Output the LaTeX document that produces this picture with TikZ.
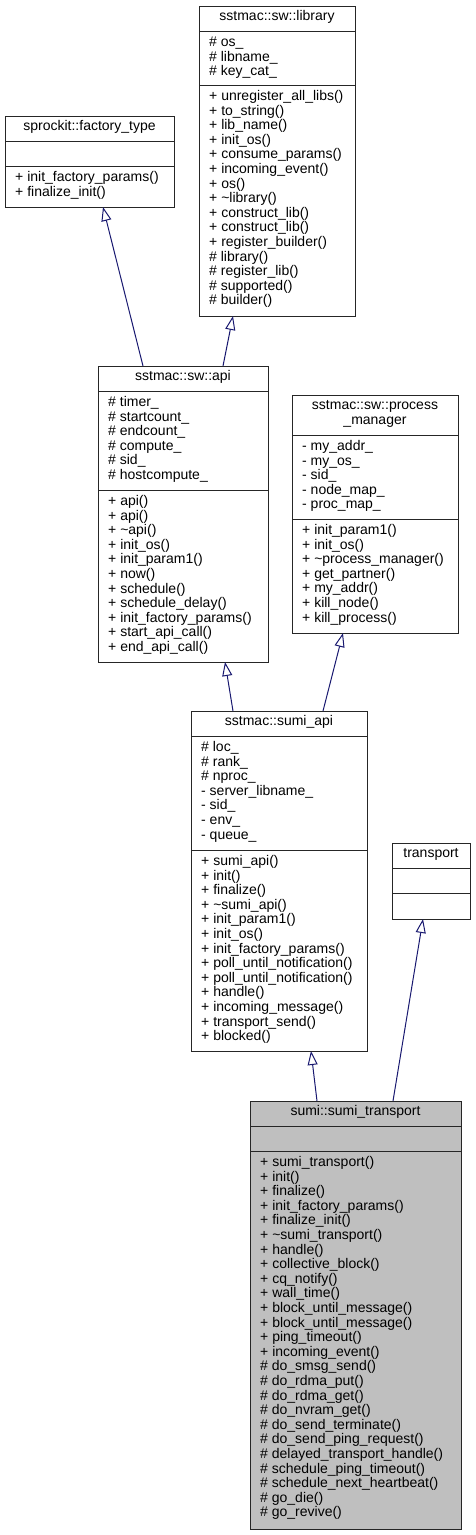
\documentclass[tikz,border=0pt]{standalone}
\usepackage{fontspec}
\setmainfont{Liberation Sans}
\usetikzlibrary{arrows.meta,calc}
\definecolor{edgeblue}{HTML}{191970}
\definecolor{focusgray}{HTML}{BFBFBF}

\begin{document}
\begin{tikzpicture}[x=1pt,y=-1pt,
    classbox/.style={draw=black!85,line width=1pt,fill=white,anchor=north west,
      inner sep=0pt,outer sep=0pt},
    sepline/.style={draw=black!85,line width=1pt},
    titletext/.style={anchor=north,inner sep=0pt,align=center,
      font=\fontsize{14}{14.6}\selectfont},
    membertext/.style={anchor=north west,inner sep=0pt,align=left,
      font=\fontsize{14}{14.6}\selectfont},
    extendsline/.style={edgeblue,line width=1pt,
      -{Triangle[open,length=14pt,width=10pt]}}]
  \useasboundingbox (0,0) rectangle (476,1535);
  % class boxes
  \node[classbox,minimum width=156pt,minimum height=310pt] (library) at (199,6) {};
  \node[classbox,minimum width=169pt,minimum height=91pt] (factory) at (5,116) {};
  \node[classbox,minimum width=170pt,minimum height=296pt] (api) at (98,366) {};
  \node[classbox,minimum width=166pt,minimum height=238pt] (procmgr) at (292,395) {};
  \node[classbox,minimum width=176pt,minimum height=340pt] (sumiapi) at (191,711) {};
  \node[classbox,minimum width=78pt,minimum height=76pt] (transport) at (392,843) {};
  \node[classbox,fill=focusgray,minimum width=211pt,minimum height=428pt] (sumitransport) at (250,1101) {};
  \foreach \c/\d in {library/25,library/79,factory/25,factory/50,api/25,api/124,
      procmgr/40,procmgr/124,sumiapi/25,sumiapi/139,transport/25,transport/50,
      sumitransport/25,sumitransport/50}
    \draw[sepline] ([yshift=-\d pt]\c.north west) -- ([yshift=-\d pt]\c.north east);

  % titles
  \node[titletext] (libraryTitle) at ([yshift=-4.5pt]library.north) {\strut sstmac::sw::library};
  \node[titletext] (factoryTitle) at ([yshift=-4.5pt]factory.north) {\strut sprockit::factory\_type};
  \node[titletext] (apiTitle) at ([yshift=-4.5pt]api.north) {\strut sstmac::sw::api};
  \node[titletext] (procmgrTitle) at ([yshift=-4.5pt]procmgr.north) {\strut sstmac::sw::process\\\_manager};
  \node[titletext] (sumiapiTitle) at ([yshift=-4.5pt]sumiapi.north) {\strut sstmac::sumi\_api};
  \node[titletext] (transportTitle) at ([yshift=-4.5pt]transport.north) {\strut transport};
  \node[titletext] (sumitransportTitle) at ([yshift=-4.5pt]sumitransport.north) {\strut sumi::sumi\_transport};

  % members
  \node[membertext] (libraryAttr) at ([xshift=10pt,yshift=-30pt]library.north west)
    {\strut\# os\_\\\# libname\_\\\# key\_cat\_};
  \node[membertext] (libraryOps) at ([xshift=10pt,yshift=-84pt]library.north west)
    {\strut+ unregister\_all\_libs()\\+ to\_string()\\+ lib\_name()\\+ init\_os()\\
     + consume\_params()\\+ incoming\_event()\\+ os()\\+ \textasciitilde library()\\
     + construct\_lib()\\+ construct\_lib()\\+ register\_builder()\\\# library()\\
     \# register\_lib()\\\# supported()\\\# builder()};
  \node[membertext] (factoryOps) at ([xshift=10pt,yshift=-55pt]factory.north west)
    {\strut+ init\_factory\_params()\\+ finalize\_init()};
  \node[membertext] (apiAttr) at ([xshift=10pt,yshift=-30pt]api.north west)
    {\strut\# timer\_\\\# startcount\_\\\# endcount\_\\\# compute\_\\\# sid\_\\\# hostcompute\_};
  \node[membertext] (apiOps) at ([xshift=10pt,yshift=-129pt]api.north west)
    {\strut+ api()\\+ api()\\+ \textasciitilde api()\\+ init\_os()\\+ init\_param1()\\+ now()\\
     + schedule()\\+ schedule\_delay()\\+ init\_factory\_params()\\+ start\_api\_call()\\
     + end\_api\_call()};
  \node[membertext] (procmgrAttr) at ([xshift=10pt,yshift=-45pt]procmgr.north west)
    {\strut- my\_addr\_\\- my\_os\_\\- sid\_\\- node\_map\_\\- proc\_map\_};
  \node[membertext] (procmgrOps) at ([xshift=10pt,yshift=-129pt]procmgr.north west)
    {\strut+ init\_param1()\\+ init\_os()\\+ \textasciitilde process\_manager()\\+ get\_partner()\\
     + my\_addr()\\+ kill\_node()\\+ kill\_process()};
  \node[membertext] (sumiapiAttr) at ([xshift=10pt,yshift=-30pt]sumiapi.north west)
    {\strut\# loc\_\\\# rank\_\\\# nproc\_\\- server\_libname\_\\- sid\_\\- env\_\\- queue\_};
  \node[membertext] (sumiapiOps) at ([xshift=10pt,yshift=-144pt]sumiapi.north west)
    {\strut+ sumi\_api()\\+ init()\\+ finalize()\\+ \textasciitilde sumi\_api()\\+ init\_param1()\\
     + init\_os()\\+ init\_factory\_params()\\+ poll\_until\_notification()\\
     + poll\_until\_notification()\\+ handle()\\+ incoming\_message()\\+ transport\_send()\\
     + blocked()};
  \node[membertext] (sumitransportOps) at ([xshift=10pt,yshift=-55pt]sumitransport.north west)
    {\strut+ sumi\_transport()\\+ init()\\+ finalize()\\+ init\_factory\_params()\\
     + finalize\_init()\\+ \textasciitilde sumi\_transport()\\+ handle()\\+ collective\_block()\\
     + cq\_notify()\\+ wall\_time()\\+ block\_until\_message()\\+ block\_until\_message()\\
     + ping\_timeout()\\+ incoming\_event()\\\# do\_smsg\_send()\\\# do\_rdma\_put()\\
     \# do\_rdma\_get()\\\# do\_nvram\_get()\\\# do\_send\_terminate()\\
     \# do\_send\_ping\_request()\\\# delayed\_transport\_handle()\\
     \# schedule\_ping\_timeout()\\\# schedule\_next\_heartbeat()\\\# go\_die()\\
     \# go\_revive()};

  % inheritance edges
  \draw[extendsline] ([xshift=45pt]api.north west) -- ([xshift=98pt]factory.south west);
  \draw[extendsline] ([xshift=125pt]api.north west) -- ([xshift=34pt]library.south west);
  \draw[extendsline] ([xshift=42pt]sumiapi.north west) -- ([xshift=127pt]api.south west);
  \draw[extendsline] ([xshift=132pt]sumiapi.north west) -- ([xshift=51pt]procmgr.south west);
  \draw[extendsline] ([xshift=67pt]sumitransport.north west) -- ([xshift=120pt]sumiapi.south west);
  \draw[extendsline] ([xshift=143pt]sumitransport.north west) -- ([xshift=31pt]transport.south west);
\end{tikzpicture}
\end{document}
